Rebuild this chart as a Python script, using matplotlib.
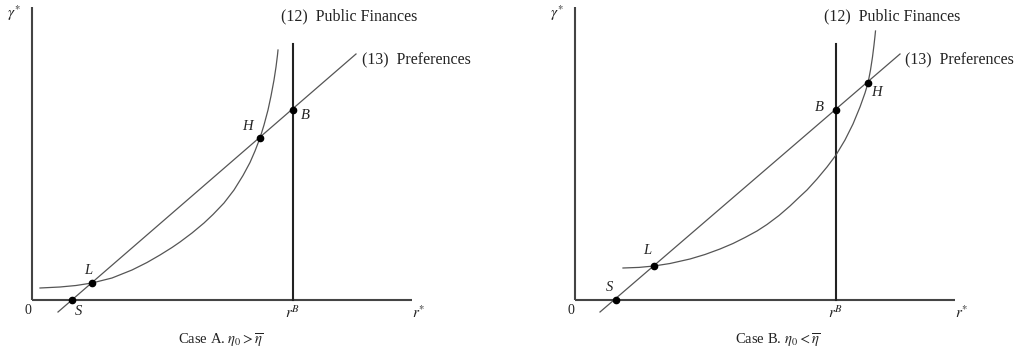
"""
Public finances vs. preferences - equilibrium diagrams for the two cases
"""

import matplotlib.pyplot as plt

plt.rcParams["font.family"] = ["Liberation Serif", "DejaVu Serif"]
plt.rcParams["mathtext.fontset"] = "stix"

# Axis extents and the r^B level (same in both panels)
AXIS_X_END = 3.80
AXIS_Y_END = 2.93
RB_TOP = 2.56

# Case A
A_RB = 2.61
A_PREF_X = [0.26, 3.24]
A_PREF_Y = [-0.12, 2.46]
A_PF_X = [0.08, 0.28, 0.44, 0.60, 0.80, 1.00, 1.15, 1.28, 1.40, 1.48, 1.60, 1.72, 1.81, 1.92,
          2.02, 2.11, 2.18, 2.23, 2.28, 2.32, 2.36, 2.39, 2.42, 2.44, 2.455, 2.46]
A_PF_Y = [0.12, 0.13, 0.145, 0.17, 0.22, 0.30, 0.375, 0.45, 0.525, 0.58, 0.67, 0.77, 0.855, 0.97,
          1.10, 1.245, 1.375, 1.49, 1.62, 1.75, 1.90, 2.04, 2.20, 2.33, 2.45, 2.50]
A_POINTS = {"S": (0.40, 0.00), "L": (0.60, 0.17), "H": (2.28, 1.62), "B": (2.61, 1.90)}

# Case B
B_RB = 2.61
B_PREF_X = [0.25, 3.25]
B_PREF_Y = [-0.12, 2.46]
B_PF_X = [0.48, 0.64, 0.79, 0.95, 1.15, 1.30, 1.45, 1.58, 1.70, 1.82, 1.92, 2.04, 2.15, 2.25,
          2.32, 2.42, 2.52, 2.61, 2.70, 2.78, 2.85, 2.90, 2.93, 2.955, 2.975, 2.99, 3.00, 3.005]
B_PF_Y = [0.32, 0.326, 0.34, 0.365, 0.41, 0.455, 0.51, 0.565, 0.625, 0.69, 0.755, 0.845, 0.94, 1.035,
          1.10, 1.21, 1.33, 1.45, 1.60, 1.76, 1.93, 2.07, 2.17, 2.30, 2.43, 2.55, 2.64, 2.69]
B_POINTS = {"S": (0.41, 0.00), "L": (0.79, 0.34), "B": (2.61, 1.90), "H": (2.93, 2.17)}

# label offsets in points
A_OFFSETS = {"S": (5, -8), "L": (-3, 9), "H": (-9, 8), "B": (9, -4)}
B_OFFSETS = {"S": (-5, 9), "L": (-5, 11), "B": (-12, 2), "H": (6, -7)}

FIG_W, FIG_H = 1024, 358


def make_axes(fig, origin_px, xlim, ylim, scale=100):
    """Axes placed so that data (0, 0) sits at origin_px and 1 unit = scale px"""
    ox, oy = origin_px
    left = ox + xlim[0] * scale
    right = ox + xlim[1] * scale
    top = oy - ylim[1] * scale
    bottom = oy - ylim[0] * scale
    ax = fig.add_axes([left / FIG_W, 1 - bottom / FIG_H,
                       (right - left) / FIG_W, (bottom - top) / FIG_H])
    ax.set_xlim(*xlim)
    ax.set_ylim(*ylim)
    ax.axis("off")
    return ax


def draw_panel(ax, rb, pref_x, pref_y, pf_x, pf_y, points, offsets, caption, cap_x):
    axis_col = "#444444"
    ax.plot([0, AXIS_X_END], [0, 0], color=axis_col, lw=1.5, solid_capstyle="butt")
    ax.plot([0, 0], [0, AXIS_Y_END], color=axis_col, lw=1.5, solid_capstyle="butt")
    ax.plot([rb, rb], [0, RB_TOP], color="#222222", lw=1.5)
    ax.plot(pref_x, pref_y, color="#555555", lw=0.9)
    ax.plot(pf_x, pf_y, color="#555555", lw=0.9, solid_joinstyle="round")
    for name, (x, y) in points.items():
        ax.plot(x, y, "o", color="black", ms=4.5, zorder=5)
        ax.annotate(name, (x, y), xytext=offsets[name], textcoords="offset points",
                    ha="center", va="center", fontsize=10.5, style="italic",
                    color="#222222")

    txt = dict(color="#222222", clip_on=False)
    ax.text(-0.04, -0.10, "0", ha="center", va="center", fontsize=10, **txt)
    ax.text(rb, -0.13, "$r^{B}$", ha="center", va="center", fontsize=11, **txt)
    ax.text(AXIS_X_END + 0.07, -0.13, "$r^{*}$", ha="center", va="center", fontsize=11, **txt)
    ax.text(-0.18, 2.87, r"$\gamma^{*}$", ha="center", va="center", fontsize=11, **txt)
    ax.text(2.49, 2.84, "(12)  Public Finances", ha="left", va="center", fontsize=11.5, **txt)
    ax.text(3.30, 2.40, "(13)  Preferences", ha="left", va="center", fontsize=11.5, **txt)
    ax.text(cap_x, -0.41, caption, ha="center", va="center", fontsize=10.5, **txt)


fig = plt.figure(figsize=(FIG_W / 100, FIG_H / 100), dpi=100)
fig.patch.set_facecolor("white")

ax_a = make_axes(fig, (32, 300), (-0.3, 4.2), (-0.25, 3.0))
draw_panel(ax_a, A_RB, A_PREF_X, A_PREF_Y, A_PF_X, A_PF_Y, A_POINTS, A_OFFSETS,
           r"Case A. $\eta_0 > \overline{\eta}$", 1.89)

ax_b = make_axes(fig, (575, 300), (-0.3, 4.45), (-0.25, 3.0))
draw_panel(ax_b, B_RB, B_PREF_X, B_PREF_Y, B_PF_X, B_PF_Y, B_POINTS, B_OFFSETS,
           r"Case B. $\eta_0 < \overline{\eta}$", 2.03)

fig.savefig("out.png", dpi=100)
